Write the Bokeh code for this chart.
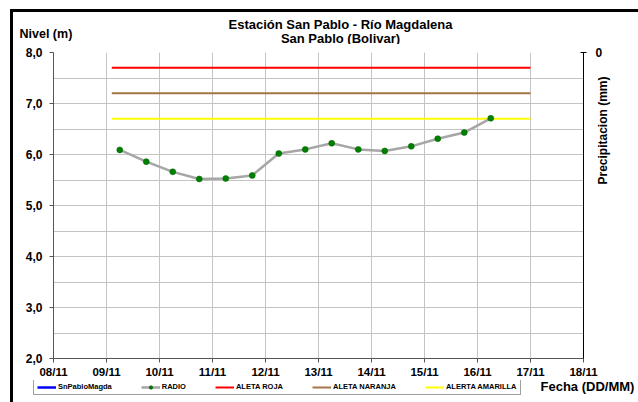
import math
from bokeh.plotting import figure
from bokeh.layouts import column
from bokeh.models import (Range1d, LinearAxis, FixedTicker, Label, Legend, LegendItem,
                          ColumnDataSource)
from bokeh.embed import file_html
from bokeh.resources import INLINE

# ---------------- data ----------------
titulo_1 = "Estación San Pablo - Río Magdalena"
titulo_2 = "San Pablo (Bolivar)"

tick_dias = [8, 9, 10, 11, 12, 13, 14, 15, 16, 17, 18]
tick_etiquetas = ["08/11", "09/11", "10/11", "11/11", "12/11", "13/11",
                  "14/11", "15/11", "16/11", "17/11", "18/11"]

nivel_ticks = [2, 3, 4, 5, 6, 7, 8]
nivel_etiquetas = ["2,0", "3,0", "4,0", "5,0", "6,0", "7,0", "8,0"]

# RADIO readings (day of November, hour of day, level in m)
radio_dia = [9, 9, 10, 10, 11, 11, 12, 12, 13, 13, 14, 14, 15, 15, 16]
radio_hora = [6, 18, 6, 18, 6, 18, 6, 18, 6, 18, 6, 18, 6, 18, 6]
radio_nivel = [6.09, 5.86, 5.66, 5.52, 5.53, 5.59, 6.02, 6.10, 6.22, 6.10,
               6.07, 6.16, 6.31, 6.43, 6.71]

# alert thresholds (m) and their time span (day of November)
alerta_inicio = 9.1
alerta_fin = 17.0
alerta_roja = 7.7
alerta_naranja = 7.2
alerta_amarilla = 6.7

FONT = "Liberation Sans"
W = 625
H_TOP, H_MAIN, H_BOT = 32, 336, 22

C_BLUE, C_GRAY, C_GREEN = "#0000ff", "#a6a6a6", "#008000"
C_RED, C_BROWN, C_YELLOW = "#ff0000", "#a67445", "#ffff00"


def blank_figure(h):
    f = figure(width=W, height=h, output_backend="svg", toolbar_location=None,
               x_range=Range1d(0, W), y_range=Range1d(h, 0),
               x_axis_type=None, y_axis_type=None, min_border=0)
    f.outline_line_color = None
    f.grid.visible = False
    f.background_fill_color = "white"
    f.border_fill_color = "white"
    return f


def text(f, t, x, y, size="12.5px", align="left"):
    f.add_layout(Label(x=x, y=y, text=t, text_font=FONT, text_font_style="bold",
                       text_font_size=size, text_color="black",
                       text_align=align, text_baseline="middle"))


# ---------------- header (titles) ----------------
top = blank_figure(H_TOP)
text(top, titulo_1, 327, 11.5, size="13px", align="center")
text(top, titulo_2, 327, 25.5, size="13px", align="center")
text(top, "Nivel (m)", 6, 21.5)

# ---------------- main chart ----------------
p = figure(width=W, height=H_MAIN, output_backend="svg", toolbar_location=None,
           x_range=Range1d(8, 18), y_range=Range1d(2, 8),
           min_border_left=40, min_border_right=W - 40 - 530,
           min_border_top=8, min_border_bottom=H_MAIN - 8 - 306)
p.outline_line_color = None
p.background_fill_color = "white"
p.border_fill_color = "white"

p.xgrid.ticker = FixedTicker(ticks=tick_dias)
p.ygrid.ticker = FixedTicker(ticks=[2 + 0.5 * i for i in range(13)])
for g in (p.xgrid, p.ygrid):
    g.grid_line_color = "#c4c4c4"
    g.grid_line_width = 1

xa = p.xaxis[0]
xa.ticker = FixedTicker(ticks=tick_dias)
xa.major_label_overrides = {d: t for d, t in zip(tick_dias, tick_etiquetas)}
xa.minor_tick_line_color = None
xa.major_tick_out = 4
xa.major_tick_in = 0
xa.axis_line_color = "#555555"
xa.major_tick_line_color = "#555555"
xa.major_label_standoff = 3
xa.major_label_text_font = FONT
xa.major_label_text_font_style = "bold"
xa.major_label_text_font_size = "11.5px"
xa.major_label_text_color = "black"

ya = p.yaxis[0]
ya.ticker = FixedTicker(ticks=nivel_ticks)
ya.major_label_overrides = {v: t for v, t in zip(nivel_ticks, nivel_etiquetas)}
ya.minor_tick_line_color = None
ya.major_tick_out = 4
ya.major_tick_in = 0
ya.axis_line_color = "#555555"
ya.major_tick_line_color = "#555555"
ya.major_label_standoff = 7
ya.major_label_text_font = FONT
ya.major_label_text_font_style = "bold"
ya.major_label_text_font_size = "12px"
ya.major_label_text_color = "black"

p.extra_y_ranges = {"precip": Range1d(start=10, end=0)}
ra = LinearAxis(y_range_name="precip", ticker=FixedTicker(ticks=[0]))
ra.minor_tick_line_color = None
ra.major_tick_out = 3
ra.major_tick_in = 3
ra.axis_line_color = "black"
ra.major_tick_line_color = "black"
ra.major_label_standoff = 9
ra.major_label_text_font = FONT
ra.major_label_text_font_style = "bold"
ra.major_label_text_font_size = "12px"
ra.major_label_text_color = "black"
p.add_layout(ra, "right")

radio_x = [d + h / 24.0 for d, h in zip(radio_dia, radio_hora)]
src = ColumnDataSource(dict(x=radio_x, y=radio_nivel))

p.line(x=[alerta_inicio, alerta_fin], y=[alerta_roja, alerta_roja], line_color=C_RED, line_width=2)
p.line(x=[alerta_inicio, alerta_fin], y=[alerta_naranja, alerta_naranja], line_color=C_BROWN, line_width=2)
p.line(x=[alerta_inicio, alerta_fin], y=[alerta_amarilla, alerta_amarilla], line_color=C_YELLOW, line_width=2)
p.line(x="x", y="y", source=src, line_color=C_GRAY, line_width=2.5)
p.scatter(x="x", y="y", source=src, size=6, fill_color=C_GREEN, line_color="#006000", line_width=0.5)

p.add_layout(Label(x=589, y=86, x_units="canvas", y_units="canvas", text="Precipitacion (mm)",
                   text_font=FONT, text_font_style="bold", text_font_size="12px",
                   text_color="black", text_align="center", text_baseline="middle",
                   angle=math.pi / 2), "right")

# ---------------- footer (legend + x label) ----------------
bot = blank_figure(H_BOT)
sin_dato = [float("nan")]   # legend proxies: no visible mark
l_blue = bot.line(x=sin_dato, y=sin_dato, line_color=C_BLUE, line_width=2.5)
l_gray = bot.line(x=sin_dato, y=sin_dato, line_color=C_GRAY, line_width=2.5)
l_dot = bot.scatter(x=sin_dato, y=sin_dato, size=5, fill_color=C_GREEN, line_color="#006000")
l_red = bot.line(x=sin_dato, y=sin_dato, line_color=C_RED, line_width=2)
l_brown = bot.line(x=sin_dato, y=sin_dato, line_color=C_BROWN, line_width=2)
l_yellow = bot.line(x=sin_dato, y=sin_dato, line_color=C_YELLOW, line_width=2)

legend = Legend(items=[
    LegendItem(label="SnPabloMagda", renderers=[l_blue]),
    LegendItem(label="RADIO", renderers=[l_gray, l_dot]),
    LegendItem(label="ALETA ROJA", renderers=[l_red]),
    LegendItem(label="ALETA NARANJA", renderers=[l_brown]),
    LegendItem(label="ALERTA AMARILLA", renderers=[l_yellow]),
], orientation="horizontal", location=(20, 7))
legend.label_text_font = FONT
legend.label_text_font_style = "bold"
legend.label_text_font_size = "7.5px"
legend.label_text_color = "black"
legend.label_standoff = 2
legend.label_width = 0
legend.glyph_width = 19
legend.glyph_height = 8
legend.spacing = 29
legend.padding = 3
legend.margin = 0
legend.border_line_color = "#404040"
legend.border_line_width = 1
legend.background_fill_color = "white"
bot.add_layout(legend, "center")

text(bot, "Fecha (DD/MM)", 527, 6, size="13px")

framed = column(column(top), column(p), column(bot), spacing=0,
                styles={"border-left": "3px solid black", "border-top": "3px solid black"})
page = column(framed, styles={"padding-left": "10px", "padding-top": "9px",
                              "background-color": "white"})

open("out.html", "w").write(file_html(page, INLINE))
